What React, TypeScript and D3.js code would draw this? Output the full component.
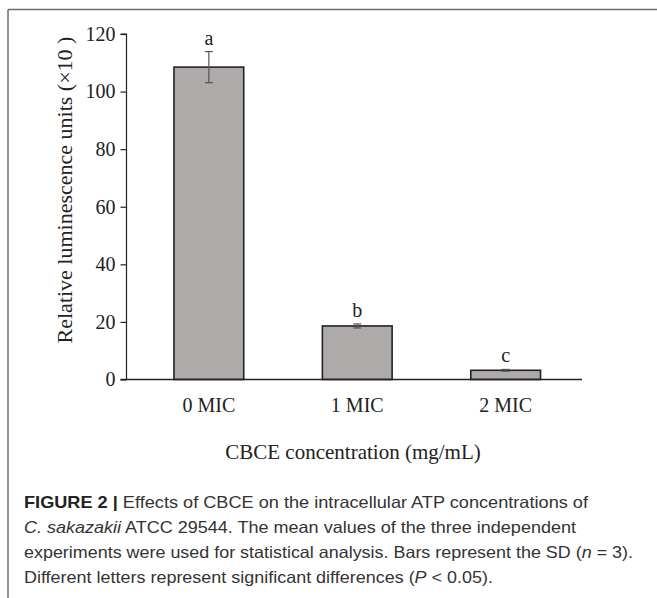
import { useEffect, useRef } from "react";
import * as d3 from "d3";

const categories = ["0 MIC", "1 MIC", "2 MIC"];
const means = [108.5, 18.6, 3.2];
const sds = [5.4, 0.7, 0.3];
const letters = ["a", "b", "c"];
const yTicks = [0, 20, 40, 60, 80, 100, 120];

const captionLines = [
  [
    { t: "FIGURE 2 | ", w: "bold" },
    { t: "Effects of CBCE on the intracellular ATP concentrations of" },
  ],
  [
    { t: "C. sakazakii", s: "italic" },
    { t: " ATCC 29544. The mean values of the three independent" },
  ],
  [
    { t: "experiments were used for statistical analysis. Bars represent the SD (" },
    { t: "n", s: "italic" },
    { t: " = 3)." },
  ],
  [
    { t: "Different letters represent significant differences (" },
    { t: "P", s: "italic" },
    { t: " < 0.05)." },
  ],
];
const captionEnds = [588, 576, 633, 493];

export default function App() {
  const svgRef = useRef<SVGSVGElement>(null);

  useEffect(() => {
    document.body.style.margin = "0";
    if (!svgRef.current) return;
    const W = 657, H = 598;
    const svg = d3.select(svgRef.current).attr("width", W).attr("height", H);
    svg.selectAll("*").remove();

    const serif = "'Liberation Serif', 'Times New Roman', serif";
    const sans = "'Liberation Sans Narrow', 'Liberation Sans', Arial, sans-serif";

    // frame (top and left only)
    svg.append("line").attr("x1", 8).attr("x2", W).attr("y1", 9.5).attr("y2", 9.5)
      .attr("stroke", "#6e6e6e").attr("stroke-width", 1.5);
    svg.append("line").attr("x1", 8).attr("x2", 8).attr("y1", 9.5).attr("y2", H)
      .attr("stroke", "#6e6e6e").attr("stroke-width", 1.5);

    const left = 126.5, right = 582, y0 = 379.5, yTop = 34;
    const x = d3.scaleBand().domain(categories).range([left, 588]).paddingInner(0.53).paddingOuter(0.32);
    const y = d3.scaleLinear().domain([0, 120]).range([y0, yTop]);

    const g = svg.append("g");

    // y axis
    g.append("g")
      .attr("transform", `translate(${left},0)`)
      .call(d3.axisLeft(y).tickValues(yTicks).tickSize(6).tickPadding(5))
      .call((a) => a.select(".domain").attr("stroke", "#222").attr("stroke-width", 1.2).attr("d", `M-6,${yTop}H0V${y0}`))
      .call((a) => a.selectAll(".tick line").attr("stroke", "#222").attr("stroke-width", 1.2))
      .call((a) => a.selectAll(".tick text").attr("fill", "#222").attr("font-size", "20px").attr("font-family", serif));

    // bars
    g.selectAll(".bar").data(categories).enter().append("rect")
      .attr("x", (d) => x(d) ?? 0)
      .attr("y", (_, i) => y(means[i]))
      .attr("width", x.bandwidth())
      .attr("height", (_, i) => y0 - y(means[i]))
      .attr("fill", "#aeaaaa").attr("stroke", "#222").attr("stroke-width", 1.6);

    // error bars
    categories.forEach((c, i) => {
      const cx = (x(c) ?? 0) + x.bandwidth() / 2;
      const hi = y(means[i] + sds[i]), lo = y(means[i] - sds[i]);
      const eg = g.append("g").attr("stroke", "#555").attr("stroke-width", 1.2);
      eg.append("line").attr("x1", cx).attr("x2", cx).attr("y1", hi).attr("y2", lo);
      eg.append("line").attr("x1", cx - 4).attr("x2", cx + 4).attr("y1", hi).attr("y2", hi);
      eg.append("line").attr("x1", cx - 4).attr("x2", cx + 4).attr("y1", lo).attr("y2", lo);
      g.append("text").attr("x", cx).attr("y", hi - 7).attr("text-anchor", "middle")
        .attr("font-family", serif).attr("font-size", "20px").attr("fill", "#222").text(letters[i]);
    });

    // x axis
    g.append("line").attr("x1", left - 6).attr("x2", right).attr("y1", y0).attr("y2", y0)
      .attr("stroke", "#222").attr("stroke-width", 1.4);
    g.selectAll(".xl").data(categories).enter().append("text")
      .attr("x", (d) => (x(d) ?? 0) + x.bandwidth() / 2)
      .attr("y", 412).attr("text-anchor", "middle")
      .attr("font-family", serif).attr("font-size", "20px").attr("fill", "#222").text((d) => d);

    // axis titles
    g.append("text").attr("x", 353).attr("y", 459).attr("text-anchor", "middle")
      .attr("font-family", serif).attr("font-size", "21px").attr("fill", "#222")
      .text("CBCE concentration (mg/mL)");
    g.append("text").attr("transform", `translate(72,190) rotate(-90)`).attr("text-anchor", "middle")
      .attr("font-family", serif).attr("font-size", "22px").attr("fill", "#222")
      .text("Relative luminescence units (×10 )");

    // caption
    captionLines.forEach((parts, i) => {
      const t = svg.append("text").attr("x", 24).attr("y", 508 + i * 25)
        .attr("font-family", sans).attr("font-size", "16.5px").attr("fill", "#333")
        .attr("textLength", captionEnds[i] - 24).attr("lengthAdjust", "spacingAndGlyphs");
      parts.forEach((p: any) => {
        t.append("tspan").attr("font-weight", p.w || "normal").attr("font-style", p.s || "normal")
          .attr("fill", p.w ? "#222" : "#333").text(p.t);
      });
    });
  }, []);

  return <svg ref={svgRef} style={{ display: "block" }} />;
}
